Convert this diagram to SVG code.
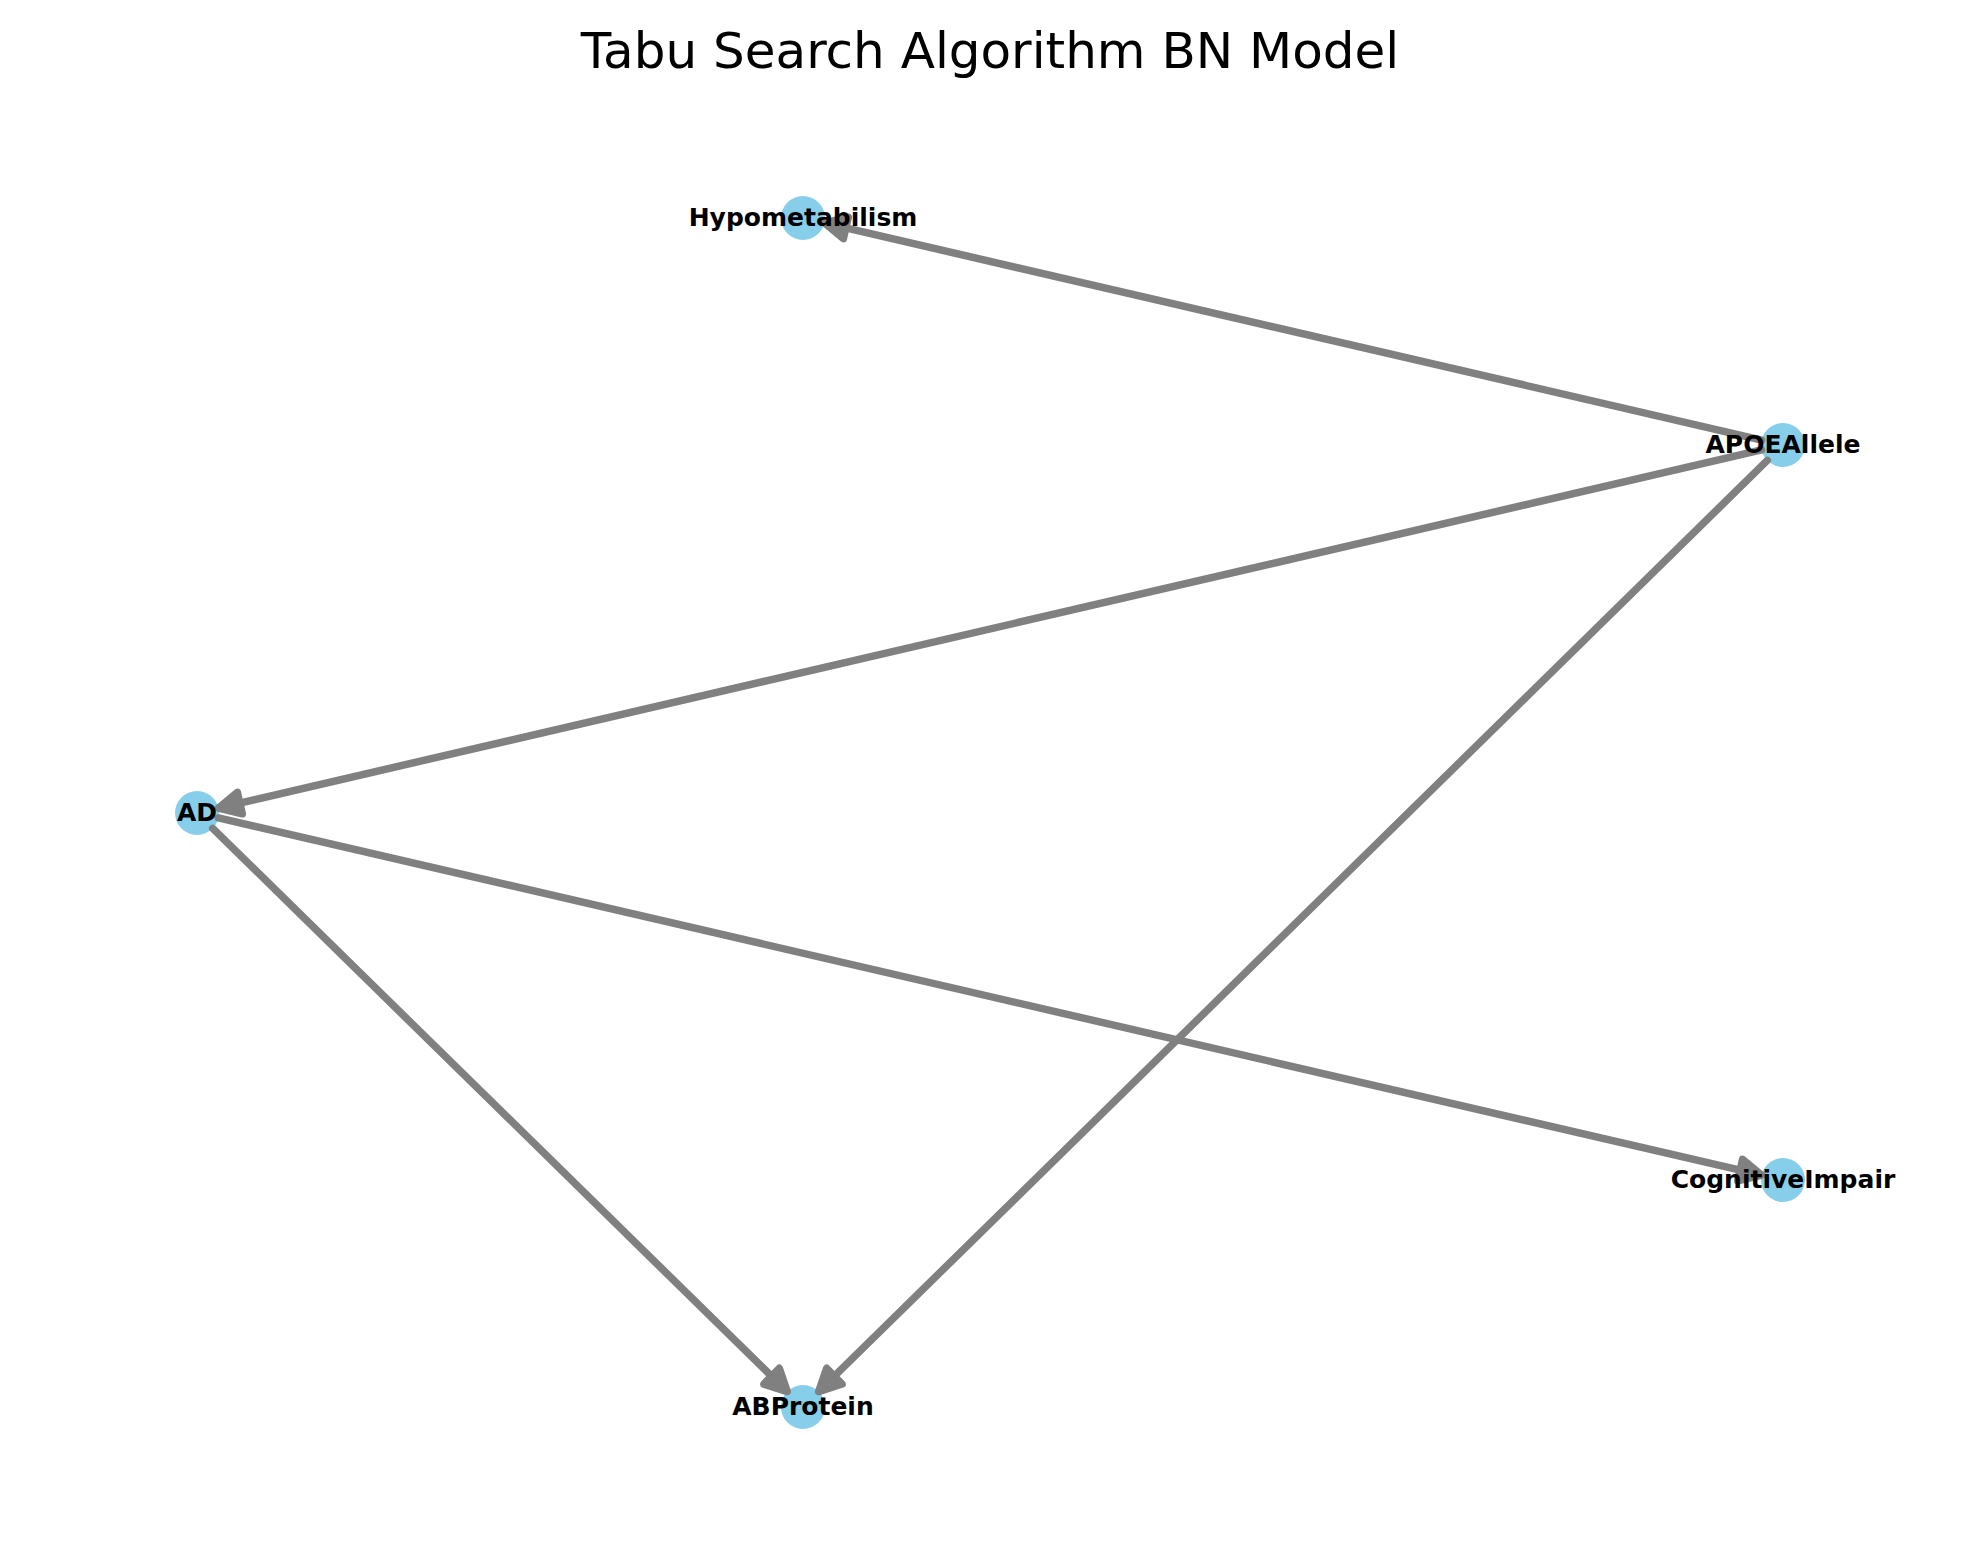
<svg xmlns="http://www.w3.org/2000/svg" width="1980" height="1563" viewBox="0 0 1980 1563">
<style>
.node circle { fill: #87CEEB; }
.node text { font-family: "DejaVu Sans", "Liberation Sans", sans-serif; font-weight: bold; font-size: 25px; fill: #000; text-anchor: middle; }
.edge line { stroke: #808080; stroke-width: 7.5; stroke-linecap: round; fill: none; }
.edge polygon { fill: #808080; stroke: #808080; stroke-width: 7.5; stroke-linejoin: round; }
.title { font-family: "DejaVu Sans", "Liberation Sans", sans-serif; font-size: 50px; fill: #000; text-anchor: middle; }
</style>
<rect width="1980" height="1563" fill="#ffffff"/>
<text class="title" x="990" y="68">Tabu Search Algorithm BN Model</text>
<g id="node-circles">
<g class="node" id="n-Hypometabilism-c"><circle cx="803" cy="218" r="22"/></g>
<g class="node" id="n-APOEAllele-c"><circle cx="1783" cy="445" r="22"/></g>
<g class="node" id="n-AD-c"><circle cx="197" cy="813" r="22"/></g>
<g class="node" id="n-CognitiveImpair-c"><circle cx="1783" cy="1180" r="22"/></g>
<g class="node" id="n-ABProtein-c"><circle cx="803" cy="1407" r="22"/></g>
</g>
<g id="edges">
<g class="edge" id="e-APOEAllele-Hypometabilism">
<line x1="1761.57" y1="440.03" x2="845.86" y2="227.94"/>
<polygon points="824.43,222.97 848.34,217.22 843.38,238.66"/>
</g>
<g class="edge" id="e-APOEAllele-AD">
<line x1="1761.57" y1="449.97" x2="239.86" y2="803.06"/>
<polygon points="218.43,808.03 242.35,813.78 237.37,792.34"/>
</g>
<g class="edge" id="e-APOEAllele-ABProtein">
<line x1="1767.30" y1="460.41" x2="834.40" y2="1376.18"/>
<polygon points="818.70,1391.59 842.11,1384.03 826.69,1368.33"/>
</g>
<g class="edge" id="e-AD-ABProtein">
<line x1="212.71" y1="828.40" x2="771.58" y2="1376.20"/>
<polygon points="787.29,1391.60 763.88,1384.06 779.28,1368.34"/>
</g>
<g class="edge" id="e-AD-CognitiveImpair">
<line x1="218.43" y1="817.96" x2="1740.14" y2="1170.08"/>
<polygon points="1761.57,1175.04 1737.66,1180.80 1742.62,1159.36"/>
</g>
</g>
<g id="node-labels">
<g class="node" id="n-Hypometabilism"><text x="803" y="225.5">Hypometabilism</text></g>
<g class="node" id="n-APOEAllele"><text x="1783" y="452.5">APOEAllele</text></g>
<g class="node" id="n-AD"><text x="197" y="820.5">AD</text></g>
<g class="node" id="n-CognitiveImpair"><text x="1783" y="1187.5">CognitiveImpair</text></g>
<g class="node" id="n-ABProtein"><text x="803" y="1414.5">ABProtein</text></g>
</g>
</svg>
